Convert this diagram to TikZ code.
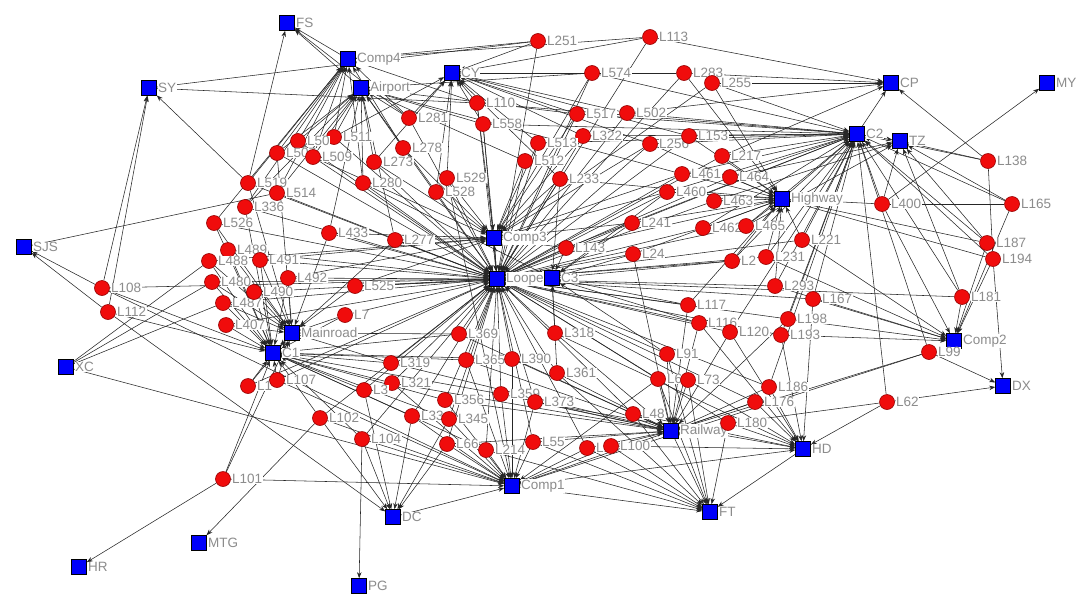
\documentclass[tikz,border=0pt]{standalone}
\usepackage{fontspec}
\setmainfont{Liberation Sans}
\usetikzlibrary{arrows.meta}
\pgfdeclarelayer{background}
\pgfsetlayers{background,main}
\definecolor{labgray}{RGB}{140,140,140}
\definecolor{nodered}{RGB}{240,12,12}
\definecolor{reddraw}{RGB}{150,0,0}
\definecolor{sqblue}{RGB}{0,0,250}
\tikzset{
  rn/.style={circle,fill=nodered,draw=reddraw,line width=0.6pt,minimum size=15pt,inner sep=0pt},
  sq/.style={rectangle,fill=sqblue,draw=black,line width=0.6pt,minimum size=15pt,inner sep=0pt},
  lab/.style={text=labgray,font=\fontsize{13.5pt}{13.5pt}\selectfont,fill=white,inner sep=0.6pt,label distance=0.5pt},
  ed/.style={draw=black!85,line width=0.55pt,-{Stealth[length=6pt,width=4.5pt]}},
  pl/.style={draw=black!85,line width=0.55pt}
}
\newcommand\RN[4]{\node[rn,label={[lab]right:#4}] (#1) at (#2,#3) {};}
\newcommand\SQ[4]{\node[sq,label={[lab]right:#4}] (#1) at (#2,#3) {};}
\begin{document}
\begin{tikzpicture}[x=1pt,y=-1pt]
\useasboundingbox (0,0) rectangle (1084,608);
% hubs
\SQ{FS}{287}{23}{FS}
\SQ{Comp4}{348}{59}{Comp4}
\SQ{SY}{149}{88}{SY}
\SQ{CY}{452}{73}{CY}
\SQ{Airport}{361}{88}{Airport}
\SQ{CP}{891}{83}{CP}
\SQ{MY}{1047}{83}{MY}
\SQ{C2}{857}{134}{C2}
\SQ{TZ}{900}{141}{TZ}
\SQ{Highway}{782}{199}{Highway}
\SQ{SJS}{24}{247}{SJS}
\SQ{Comp3}{494}{238}{Comp3}
\SQ{Loope}{497}{279}{Loope}
\SQ{C3}{552}{278}{C3}
\SQ{Mainroad}{292}{333}{Mainroad}
\SQ{C1}{273}{353}{C1}
\SQ{XC}{66}{367}{XC}
\SQ{Comp2}{954}{341}{Comp2}
\SQ{DX}{1003}{386}{DX}
\SQ{Railway}{671}{431}{Railway}
\SQ{HD}{803}{449}{HD}
\SQ{Comp1}{512}{486}{Comp1}
\SQ{FT}{710}{512}{FT}
\SQ{DC}{393}{517}{DC}
\SQ{MTG}{199}{543}{MTG}
\SQ{HR}{79}{567}{HR}
\SQ{PG}{359}{586}{PG}
% red nodes
\RN{a251}{538}{41}{L251}
\RN{a113}{650}{37}{L113}
\RN{a574}{592}{73}{L574}
\RN{a283}{684}{73}{L283}
\RN{a255}{712}{83}{L255}
\RN{a110}{477}{103}{L110}
\RN{a558}{483}{124}{L558}
\RN{a517}{577}{114}{L517}
\RN{a502}{627}{113}{L502}
\RN{a322}{583}{136}{L322}
\RN{a256}{650}{144}{L256}
\RN{a153}{689}{136}{L153}
\RN{a217}{722}{156}{L217}
\RN{a513}{538}{143}{L513}
\RN{a512}{525}{161}{L512}
\RN{a233}{560}{179}{L233}
\RN{a461}{682}{174}{L461}
\RN{a464}{730}{177}{L464}
\RN{a460}{667}{192}{L460}
\RN{a463}{714}{201}{L463}
\RN{a281}{409}{118}{L281}
\RN{a278}{403}{148}{L278}
\RN{a511}{334}{137}{L511}
\RN{a50}{298}{141}{L50}
\RN{a507}{277}{153}{L507}
\RN{a509}{313}{157}{L509}
\RN{a273}{374}{162}{L273}
\RN{a280}{363}{183}{L280}
\RN{a529}{447}{178}{L529}
\RN{a528}{436}{192}{L528}
\RN{a519}{248}{183}{L519}
\RN{a514}{277}{193}{L514}
\RN{a336}{245}{207}{L336}
\RN{a526}{214}{223}{L526}
\RN{a489}{228}{250}{L489}
\RN{a488}{209}{261}{L488}
\RN{a480}{212}{282}{L480}
\RN{a487}{223}{303}{L487}
\RN{a407}{226}{325}{L407}
\RN{a491}{260}{260}{L491}
\RN{a490}{254}{292}{L490}
\RN{a492}{288}{278}{L492}
\RN{a433}{329}{233}{L433}
\RN{a277}{395}{240}{L277}
\RN{a525}{355}{286}{L525}
\RN{a7}{345}{315}{L7}
\RN{a108}{102}{288}{L108}
\RN{a112}{108}{312}{L112}
\RN{a1}{248}{386}{L1}
\RN{a107}{277}{380}{L107}
\RN{a369}{459}{334}{L369}
\RN{a319}{391}{363}{L319}
\RN{a321}{392}{383}{L321}
\RN{a365}{466}{360}{L365}
\RN{a390}{512}{359}{L390}
\RN{a3}{364}{390}{L3}
\RN{a356}{445}{400}{L356}
\RN{a359}{501}{394}{L359}
\RN{a373}{535}{402}{L373}
\RN{a361}{557}{373}{L361}
\RN{a318}{555}{333}{L318}
\RN{a143}{566}{248}{L143}
\RN{a241}{632}{223}{L241}
\RN{a24}{633}{254}{L24}
\RN{a462}{703}{228}{L462}
\RN{a465}{746}{226}{L465}
\RN{a221}{802}{240}{L221}
\RN{a2}{732}{261}{L2}
\RN{a231}{766}{257}{L231}
\RN{a293}{775}{286}{L293}
\RN{a167}{813}{299}{L167}
\RN{a117}{688}{305}{L117}
\RN{a116}{699}{323}{L116}
\RN{a120}{730}{332}{L120}
\RN{a198}{788}{319}{L198}
\RN{a193}{781}{335}{L193}
\RN{a91}{667}{354}{L91}
\RN{a6}{658}{379}{L6}
\RN{a73}{688}{380}{L73}
\RN{a186}{769}{387}{L186}
\RN{a176}{755}{402}{L176}
\RN{a181}{962}{297}{L181}
\RN{a187}{987}{243}{L187}
\RN{a194}{993}{259}{L194}
\RN{a99}{929}{352}{L99}
\RN{a62}{887}{402}{L62}
\RN{a400}{882}{204}{L400}
\RN{a165}{1012}{204}{L165}
\RN{a138}{988}{161}{L138}
\RN{a48}{633}{414}{L48}
\RN{a180}{728}{423}{L180}
\RN{a55}{533}{442}{L55}
\RN{a1b}{587}{448}{L1}
\RN{a100}{611}{446}{L100}
\RN{a102}{320}{418}{L102}
\RN{a104}{362}{439}{L104}
\RN{a33}{412}{416}{L33}
\RN{a345}{449}{419}{L345}
\RN{a66}{447}{444}{L66}
\RN{a214}{486}{450}{L214}
\RN{a101}{223}{479}{L101}
% connectors
\begin{pgfonlayer}{background}
\foreach \s/\tl in {
 Loope/{Comp3},C3/{Loope},Comp3/{Loope},Mainroad/{C1},C2/{TZ,CP},Highway/{C2},
 Railway/{FT},HD/{FT},Comp1/{FT,HD},DC/{Comp1},Comp4/{FS},Airport/{FS},
 a113/{CY,CP,Comp4,Loope},a251/{CY,Comp4,Loope},a574/{CY,C2,Airport,Loope,Comp3},
 a283/{CP,Highway,CY,Loope},a255/{CP,C2,Highway,Comp3},a110/{CY,C2,Comp4,Loope,Comp3},
 a558/{CY,Airport,Loope,C2,Comp3},a517/{CY,C2,Loope,Airport,Comp3},a502/{CP,C2,CY,Loope},
 a322/{Loope,C2,Comp3,CY},a256/{Highway,C2,Loope,CY,Comp3},a153/{Highway,C2,CY,Loope},
 a217/{Highway,C2,CP,Loope},a513/{Loope,CY,Comp3,C2},a512/{Loope,Airport,Comp3},
 a233/{Loope,C3,CY,Highway,Comp3},a461/{Highway,C2,Loope,Airport,Comp3},a464/{Highway,C2,TZ,Loope},
 a460/{Highway,Loope,C3,C2,Comp3},a463/{Highway,Loope,TZ},a281/{Airport,CY,Comp4,FS,Loope},
 a278/{Airport,Comp4,Loope,Comp3},a511/{Comp4,Airport,CY,Loope},a50/{Comp4,Airport,Loope},
 a507/{Comp4,Airport,Mainroad,Loope},a509/{Comp4,Airport,Loope,Comp3},
 a273/{Airport,CY,Loope,Comp3},a280/{Airport,Comp4,Loope,C3},a529/{CY,Loope,Comp3,Comp1},
 a528/{CY,Airport,Loope,Comp3},a519/{SY,FS,Comp4,Loope,Mainroad},a514/{SJS,Comp4,Loope,Airport},
 a336/{Comp4,Loope,C1,Airport},a526/{C1,Mainroad,Loope,Comp4},a489/{C1,Mainroad,Loope},
 a488/{C1,Mainroad,Comp3},a480/{C1,Mainroad,Loope},a487/{C1,Mainroad,Loope},
 a407/{C1,Mainroad,Loope},a491/{C1,Mainroad,Loope,Comp3},a490/{C1,Mainroad,Loope},
 a492/{C1,Mainroad,Loope,Comp3},a433/{Mainroad,Loope,Comp3,Airport},
 a277/{Loope,Comp3,Airport,Mainroad},a525/{Loope,Mainroad,Comp3,C3},a7/{Mainroad,Loope,C1},
 a108/{SY,SJS,C1,Loope,Comp1},a112/{SY,SJS,C1,DC},a1/{C1,Mainroad,Loope},
 a107/{C1,Mainroad,Loope,Comp1},a369/{Loope,C1,Mainroad,Railway},a319/{C1,Loope,Mainroad,Railway},
 a321/{C1,Loope,Comp1,Railway},a365/{Loope,C1,Railway,Comp1},a390/{Loope,C1,Railway,Comp1},
 a3/{C1,Loope,DC},a356/{Loope,C1,Comp1,Railway},a359/{Loope,Railway,Comp1,C1},
 a373/{Loope,Railway,Comp1,HD},a361/{Loope,Railway,C3,FT},a318/{Loope,C3,Railway,HD},
 a143/{Loope,C3,Highway,C2,Comp3},a241/{Loope,Highway,C2,C3,Comp3},a24/{Loope,Highway,C3,Railway},
 a462/{Highway,Loope,C2},a465/{Highway,C2,TZ,Loope},a221/{Highway,C2,Comp2,Loope},
 a2/{Highway,C3,Loope,C2},a231/{Highway,Loope,C2,Comp2},a293/{Loope,Highway,C2,Comp2},
 a167/{C2,Comp2,Loope,HD},a117/{Loope,C3,Railway,Highway},a116/{Loope,C3,Railway,HD},
 a120/{Loope,Railway,HD,C2},a198/{Loope,Comp2,C2,Railway},a193/{Loope,Comp2,HD,C2},
 a91/{Loope,C3,Railway,FT},a6/{Loope,Railway,FT,Comp1},a73/{Loope,Railway,FT,HD},
 a186/{HD,Railway,Loope,C2},a176/{HD,Railway,Comp1,Loope},a181/{Comp2,C2,TZ,Loope},
 a187/{Comp2,C2,Highway,TZ},a194/{Comp2,DX,C2,Highway},a99/{DX,C2,Comp1,Railway},
 a62/{DX,HD,C2,Railway},a400/{MY,Highway,C2,TZ,Comp2},a165/{TZ,C2,Comp2},
 a138/{CP,TZ,C2},a48/{Railway,Loope,FT,HD},a180/{HD,FT,Railway,Loope},
 a55/{Comp1,Loope,FT,Railway},a1b/{Comp1,Railway,FT,Loope},a100/{Comp1,Railway,HD,FT},
 a102/{MTG,DC,Comp1,C1,Loope},a104/{PG,DC,Comp1,C1,Loope},a33/{DC,Comp1,Loope,C1},
 a345/{Comp1,Loope,C1,DC},a66/{Comp1,DC,Loope,Railway},a214/{Comp1,Loope,FT,C1},
 a101/{HR,Comp1,C1,Mainroad},XC/{Comp1}}
 {\foreach \t in \tl {\draw[ed] (\s) -- (\t);}}
\foreach \s/\t in {XC/a488,XC/a480,XC/a487,SY/a251,SY/a110,a400/a165,a138/a194}
 {\draw[pl] (\s) -- (\t);}
\end{pgfonlayer}
\end{tikzpicture}
\end{document}
